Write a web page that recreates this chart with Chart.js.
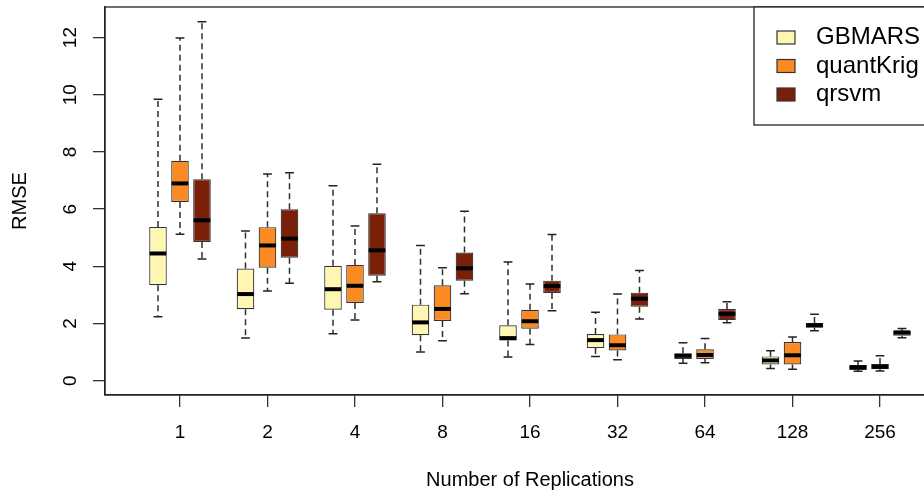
<!DOCTYPE html>
<html>
<head>
<meta charset="utf-8">
<script src="https://cdn.jsdelivr.net/npm/chart.js@4/dist/chart.umd.min.js"></script>
<style>
  html, body { margin: 0; padding: 0; background: #fff; overflow: hidden; }
  #wrap { width: 980px; height: 496px; }
</style>
</head>
<body>
<div id="wrap"><canvas id="boxChart" width="980" height="496"></canvas></div>
<script>
// 1. Data: [min, q1, median, q3, max] per replication count
const replications = ['1', '2', '4', '8', '16', '32', '64', '128', '256'];
const methods = ['GBMARS', 'quantKrig', 'qrsvm'];
const yTicks = [0, 2, 4, 6, 8, 10, 12];

const gbmarsStats = [
    [2.24, 3.34, 4.45, 5.38, 9.84],
    [1.49, 2.50, 3.03, 3.92, 5.24],
    [1.64, 2.48, 3.20, 4.02, 6.82],
    [1.00, 1.59, 2.04, 2.66, 4.73],
    [0.83, 1.41, 1.49, 1.94, 4.15],
    [0.85, 1.14, 1.42, 1.63, 2.39],
    [0.61, 0.76, 0.87, 0.96, 1.33],
    [0.43, 0.57, 0.71, 0.85, 1.05],
    [0.33, 0.37, 0.47, 0.55, 0.69]
];
const quantKrigStats = [
    [5.12, 6.25, 6.90, 7.69, 11.99],
    [3.14, 3.95, 4.73, 5.37, 7.23],
    [2.12, 2.72, 3.32, 4.05, 5.41],
    [1.40, 2.09, 2.51, 3.34, 3.95],
    [1.27, 1.82, 2.08, 2.48, 3.38],
    [0.73, 1.06, 1.24, 1.62, 3.03],
    [0.63, 0.76, 0.90, 1.10, 1.48],
    [0.40, 0.57, 0.89, 1.35, 1.53],
    [0.34, 0.40, 0.49, 0.58, 0.87]
];
const qrsvmStats = [
    [4.26, 4.85, 5.61, 7.05, 12.55],
    [3.41, 4.30, 4.97, 6.00, 7.27],
    [3.46, 3.67, 4.56, 5.86, 7.57],
    [3.04, 3.50, 3.93, 4.48, 5.93],
    [2.45, 3.07, 3.31, 3.50, 5.11],
    [2.16, 2.59, 2.87, 3.08, 3.85],
    [2.03, 2.12, 2.34, 2.51, 2.76],
    [1.75, 1.85, 1.94, 2.02, 2.32],
    [1.50, 1.57, 1.69, 1.75, 1.83]
];

const allStats = [gbmarsStats, quantKrigStats, qrsvmStats];
const fills = ['#FFF6B4', '#FB8A22', '#7A2008'];
const FONT = "'Liberation Sans', Arial, sans-serif";

// 2. Whiskers, medians, rotated y labels, box and legend
const boxExtras = {
    id: 'boxExtras',
    afterDatasetsDraw(chart) {
        const ctx = chart.ctx;
        const y = chart.scales.y;
        ctx.save();
        chart.data.datasets.forEach((ds, di) => {
            const meta = chart.getDatasetMeta(di);
            meta.data.forEach((bar, j) => {
                const [lo, q1, med, q3, hi] = allStats[di][j];
                const cx = bar.x, w = bar.width;
                // dashed whiskers
                ctx.strokeStyle = '#2e2e2e';
                ctx.lineWidth = 1.5;
                ctx.setLineDash([6, 4]);
                ctx.beginPath();
                ctx.moveTo(cx, y.getPixelForValue(q3));
                ctx.lineTo(cx, y.getPixelForValue(hi));
                ctx.moveTo(cx, y.getPixelForValue(q1));
                ctx.lineTo(cx, y.getPixelForValue(lo));
                ctx.stroke();
                // staples
                ctx.setLineDash([]);
                ctx.strokeStyle = '#222';
                ctx.lineWidth = 1.5;
                ctx.beginPath();
                ctx.moveTo(cx - w / 4, y.getPixelForValue(hi));
                ctx.lineTo(cx + w / 4, y.getPixelForValue(hi));
                ctx.moveTo(cx - w / 4, y.getPixelForValue(lo));
                ctx.lineTo(cx + w / 4, y.getPixelForValue(lo));
                ctx.stroke();
                // median
                ctx.strokeStyle = '#000';
                ctx.lineWidth = 4;
                ctx.beginPath();
                ctx.moveTo(cx - w / 2 + 0.5, y.getPixelForValue(med));
                ctx.lineTo(cx + w / 2 - 0.5, y.getPixelForValue(med));
                ctx.stroke();
            });
        });
        ctx.restore();
    },
    afterDraw(chart) {
        const ctx = chart.ctx;
        const area = chart.chartArea;
        const y = chart.scales.y;
        ctx.save();
        // plot frame
        ctx.strokeStyle = '#222';
        ctx.lineWidth = 1.3;
        ctx.strokeRect(area.left, area.top, area.right - area.left, area.bottom - area.top);

        // rotated y tick labels
        ctx.fillStyle = '#000';
        ctx.font = '19px ' + FONT;
        ctx.textAlign = 'center';
        ctx.textBaseline = 'alphabetic';
        yTicks.forEach(v => {
            ctx.save();
            ctx.translate(area.left - 29, y.getPixelForValue(v));
            ctx.rotate(-Math.PI / 2);
            ctx.fillText(String(v), 0, 0);
            ctx.restore();
        });

        // legend (top right, boxed)
        const lx = area.right - 201, ly = area.top;
        ctx.fillStyle = '#fff';
        ctx.fillRect(lx, ly, 201, 118);
        ctx.strokeRect(lx, ly, 201, 118);
        ctx.font = '24px ' + FONT;
        ctx.textAlign = 'left';
        ctx.textBaseline = 'middle';
        methods.forEach((m, i) => {
            const cy = ly + 30.5 + i * 28.5;
            ctx.fillStyle = fills[i];
            ctx.fillRect(lx + 23, cy - 6.5, 18, 13);
            ctx.strokeStyle = '#333';
            ctx.lineWidth = 1.2;
            ctx.strokeRect(lx + 23, cy - 6.5, 18, 13);
            ctx.fillStyle = '#000';
            ctx.fillText(m, lx + 62, cy);
        });
        ctx.restore();
    }
};

// 3. Chart setup
const datasets = methods.map((m, i) => ({
    label: m,
    data: allStats[i].map((s, j) => ({ x: j + 1, y: [s[1], s[3]] })),
    backgroundColor: fills[i],
    borderColor: '#333',
    borderWidth: 1.2,
    borderSkipped: false,
    categoryPercentage: 0.754,
    barPercentage: 0.8
}));

new Chart(document.getElementById('boxChart'), {
    type: 'bar',
    data: { datasets },
    plugins: [boxExtras],
    options: {
        responsive: false,
        animation: false,
        devicePixelRatio: 1,
        layout: { padding: { left: 0, top: 7, right: 25, bottom: 0 } },
        plugins: { legend: { display: false }, tooltip: { enabled: false } },
        scales: {
            x: {
                type: 'linear',
                offset: false,
                min: 0.143,
                max: 9.857,
                afterBuildTicks: s => { s.ticks = replications.map((r, i) => ({ value: i + 1 })); },
                afterFit: s => { s.height = 101; },
                grid: { offset: false, drawOnChartArea: false, drawTicks: true, tickLength: 12, color: '#333', lineWidth: 1.3 },
                border: { display: true, color: '#222', width: 1.3 },
                ticks: {
                    includeBounds: false,
                    autoSkip: false,
                    maxRotation: 0,
                    padding: 14,
                    color: '#000',
                    font: { family: FONT, size: 19 },
                    callback: v => replications[v - 1]
                },
                title: {
                    display: true,
                    text: 'Number of Replications',
                    color: '#000',
                    font: { family: FONT, size: 20 },
                    padding: { top: 0, bottom: 4 }
                }
            },
            y: {
                min: -0.5,
                max: 13.07,
                afterBuildTicks: s => { s.ticks = yTicks.map(v => ({ value: v })); },
                afterFit: s => { s.width = 105; },
                grid: { drawOnChartArea: false, drawTicks: true, tickLength: 12, color: '#333', lineWidth: 1.3 },
                border: { display: true, color: '#222', width: 1.3 },
                ticks: { display: false, includeBounds: false },
                title: {
                    display: true,
                    text: 'RMSE',
                    color: '#000',
                    font: { family: FONT, size: 20 },
                    padding: { top: 8, bottom: 0 }
                }
            }
        }
    }
});
</script>
</body>
</html>
